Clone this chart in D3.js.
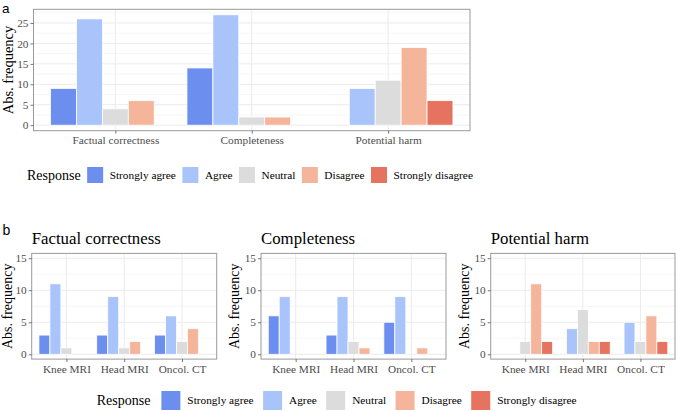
<!DOCTYPE html>
<html>
<head>
<meta charset="utf-8">
<script src="https://cdn.jsdelivr.net/npm/d3@7"></script>
<style>
  html, body { margin: 0; padding: 0; background: #fff; }
  svg { display: block; }
  .serif { font-family: "Liberation Serif", "Times New Roman", serif; }
  .sans { font-family: "Liberation Sans", Arial, sans-serif; }
</style>
</head>
<body>
<svg id="chart" width="676" height="411"></svg>
<script>
// ---------------- data ----------------
const responses = ["Strongly agree", "Agree", "Neutral", "Disagree", "Strongly disagree"];
const responseColors = ["#6C8FEF", "#A8C4FB", "#DCDCDC", "#F5B59B", "#E5735F"];
const criteria = ["Factual correctness", "Completeness", "Potential harm"];

// panel a: counts per criterion, in order of responses
const overallFactual = [9, 26, 4, 6, 0];
const overallCompleteness = [14, 27, 2, 2, 0];
const overallHarm = [0, 9, 11, 19, 6];

// panel b: counts per exam, in order of responses
const exams = ["Knee MRI", "Head MRI", "Oncol. CT"];
const factualKnee = [3, 11, 1, 0, 0];
const factualHead = [3, 9, 1, 2, 0];
const factualOncol = [3, 6, 2, 4, 0];
const completeKnee = [6, 9, 0, 0, 0];
const completeHead = [3, 9, 2, 1, 0];
const completeOncol = [5, 9, 0, 1, 0];
const harmKnee = [0, 0, 2, 11, 2];
const harmHead = [0, 4, 7, 2, 2];
const harmOncol = [0, 5, 2, 6, 2];

const yTicksA = [0, 5, 10, 15, 20, 25];
const yTicksB = [0, 5, 10, 15];
const yLabel = "Abs. frequency";
const legendTitle = "Response";

// ---------------- drawing ----------------
const svg = d3.select("#chart");
const tickFont = 11.3;

function drawPanel(opt) {
  const { x0, x1, y0, y1, cats, values, yDomain, yTicks, minorTicks, ytitleX, xLabelBaseline, ytitleSize } = opt;
  const g = svg.append("g");
  const x = d3.scalePoint().domain(cats).range([x0, x1]).padding(0.6);
  const step = x.step();
  const inner = d3.scaleBand().domain(responses).range([-0.475 * step, 0.475 * step]).paddingInner(0);
  const y = d3.scaleLinear().domain(yDomain).range([y1, y0]);
  const color = d3.scaleOrdinal().domain(responses).range(responseColors);

  g.append("rect").attr("x", x0).attr("y", y0).attr("width", x1 - x0).attr("height", y1 - y0).attr("fill", "#fff");
  g.selectAll(".minor").data(minorTicks).join("line")
    .attr("x1", x0).attr("x2", x1).attr("y1", d => y(d)).attr("y2", d => y(d))
    .attr("stroke", "#F0F0F0").attr("stroke-width", 0.6);
  g.selectAll(".majorY").data(yTicks).join("line")
    .attr("x1", x0).attr("x2", x1).attr("y1", d => y(d)).attr("y2", d => y(d))
    .attr("stroke", "#EBEBEB").attr("stroke-width", 1);
  g.selectAll(".majorX").data(cats).join("line")
    .attr("x1", d => x(d)).attr("x2", d => x(d)).attr("y1", y0).attr("y2", y1)
    .attr("stroke", "#EBEBEB").attr("stroke-width", 1);

  const bars = [];
  cats.forEach((c, i) => {
    values[i].forEach((v, j) => { if (v > 0) bars.push({ cat: c, resp: responses[j], v }); });
  });
  g.selectAll(".bar").data(bars).join("rect")
    .attr("x", d => x(d.cat) + inner(d.resp))
    .attr("width", inner.bandwidth())
    .attr("y", d => y(d.v))
    .attr("height", d => y(0) - y(d.v))
    .attr("fill", d => color(d.resp))
    .attr("stroke", "#fff").attr("stroke-width", 0.8);

  g.append("rect").attr("x", x0).attr("y", y0).attr("width", x1 - x0).attr("height", y1 - y0)
    .attr("fill", "none").attr("stroke", "#9a9a9a").attr("stroke-width", 1);

  const ya = g.append("g").attr("transform", `translate(${x0},0)`)
    .call(d3.axisLeft(y).tickValues(yTicks).tickSize(3).tickPadding(2));
  ya.attr("font-family", null).attr("font-size", null);
  ya.select(".domain").remove();
  ya.selectAll(".tick line").attr("stroke", "#555").attr("stroke-width", 0.8);
  ya.selectAll(".tick text").attr("class", "serif").style("font-size", tickFont + "px").attr("fill", "#4D4D4D");

  const xa = g.append("g").attr("transform", `translate(0,${y1})`)
    .call(d3.axisBottom(x).tickSize(3).tickPadding(2));
  xa.attr("font-family", null).attr("font-size", null);
  xa.select(".domain").remove();
  xa.selectAll(".tick line").attr("stroke", "#555").attr("stroke-width", 0.8);
  xa.selectAll(".tick text").attr("class", "serif").style("font-size", tickFont + "px").attr("fill", "#4D4D4D")
    .attr("dy", null).attr("y", xLabelBaseline - y1);

  g.append("text")
    .attr("class", "serif")
    .attr("transform", `translate(${ytitleX},${(y0 + y1) / 2}) rotate(-90)`)
    .attr("text-anchor", "middle")
    .style("font-size", ytitleSize + "px").attr("fill", "#000")
    .text(yLabel);
}

function drawLegend(opt) {
  const { titleX, cy, keySize, titleGap, labelGap, itemGap } = opt;
  const g = svg.append("g");
  const t = g.append("text").attr("class", "serif").attr("x", titleX).attr("y", cy).attr("dy", "0.35em")
    .style("font-size", "14px").attr("fill", "#000").text(legendTitle);
  let xPos = titleX + t.node().getComputedTextLength() + titleGap;
  responses.forEach((r, i) => {
    g.append("rect").attr("x", xPos).attr("y", cy - keySize / 2).attr("width", keySize).attr("height", keySize)
      .attr("fill", responseColors[i]);
    xPos += keySize + labelGap;
    const lt = g.append("text").attr("class", "serif").attr("x", xPos).attr("y", cy).attr("dy", "0.35em")
      .style("font-size", tickFont + "px").attr("fill", "#000").text(r);
    xPos += lt.node().getComputedTextLength() + itemGap;
  });
}

// ---- panel a ----
svg.append("text").attr("class", "sans").attr("x", 2).attr("y", 12.5).style("font-size", "13.5px").text("a");
drawPanel({
  x0: 33.5, x1: 470, y0: 9.3, y1: 130.7,
  cats: criteria,
  values: [overallFactual, overallCompleteness, overallHarm],
  yDomain: [-1.35, 28.35], yTicks: yTicksA,
  minorTicks: [2.5, 7.5, 12.5, 17.5, 22.5, 27.5],
  ytitleX: 12.5, xLabelBaseline: 144, ytitleSize: 14.5
});
drawLegend({ titleX: 27, cy: 175, keySize: 16, titleGap: 6.5, labelGap: 6.5, itemGap: 6.5 });

// ---- panel b ----
svg.append("text").attr("class", "sans").attr("x", 2.5).attr("y", 235).style("font-size", "14px").text("b");
const panelB = [
  { title: criteria[0], x0: 31.7, x1: 216.7, vals: [factualKnee, factualHead, factualOncol], tx: 11.5 },
  { title: criteria[1], x0: 261, x1: 446, vals: [completeKnee, completeHead, completeOncol], tx: 239 },
  { title: criteria[2], x0: 490.7, x1: 675, vals: [harmKnee, harmHead, harmOncol], tx: 468.5 }
];
panelB.forEach(p => {
  svg.append("text").attr("class", "serif").attr("x", p.x0).attr("y", 243.5)
    .style("font-size", "16.8px").attr("fill", "#000").text(p.title);
  drawPanel({
    x0: p.x0, x1: p.x1, y0: 253.4, y1: 359.1,
    cats: exams, values: p.vals,
    yDomain: [-0.75, 15.75], yTicks: yTicksB,
    minorTicks: [2.5, 7.5, 12.5],
    ytitleX: p.tx, xLabelBaseline: 373.5, ytitleSize: 14
  });
});
drawLegend({ titleX: 96.7, cy: 400.5, keySize: 19, titleGap: 11, labelGap: 7, itemGap: 9.5 });
</script>
</body>
</html>
